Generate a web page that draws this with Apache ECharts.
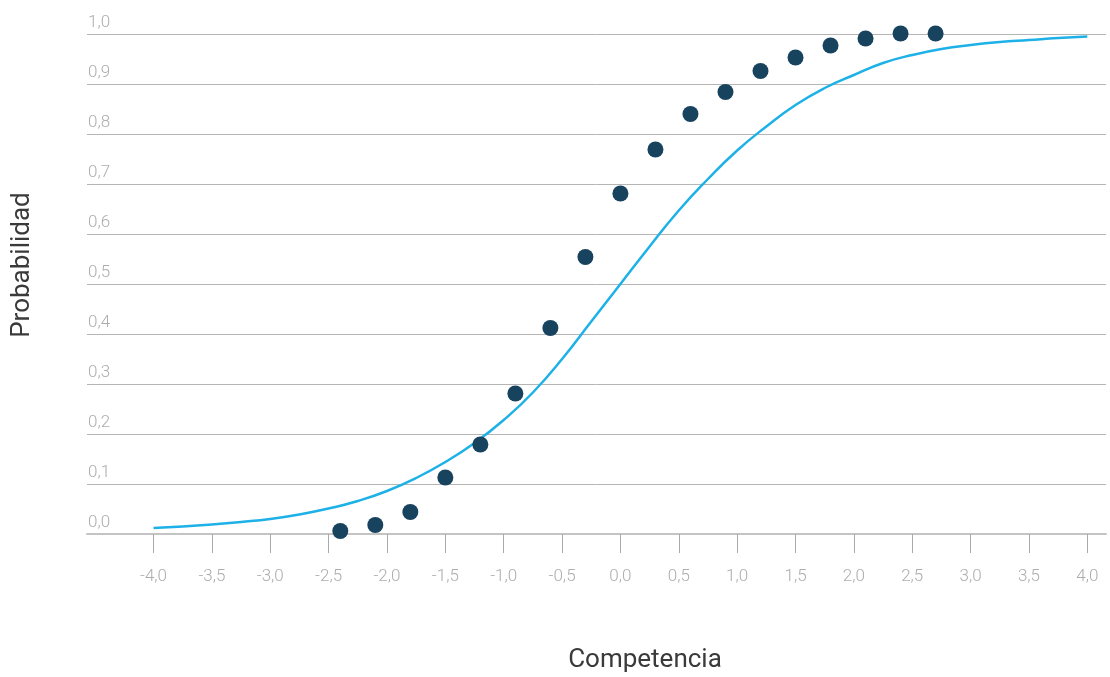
<!DOCTYPE html>
<html>
<head>
<meta charset="utf-8">
<script src="https://cdn.jsdelivr.net/npm/echarts@6/dist/echarts.min.js"></script>
<style>html,body{margin:0;padding:0;background:#fff;}#c{width:1110px;height:677px;}</style>
</head>
<body>
<div id="c"></div>
<script>
// Observed points
const pointX = [-2.4,-2.1,-1.8,-1.5,-1.2,-0.9,-0.6,-0.3,0,0.3,0.6,0.9,1.2,1.5,1.8,2.1,2.4,2.7];
const pointY = [0.006,0.018,0.044,0.113,0.179,0.281,0.412,0.554,0.681,0.769,0.840,0.884,0.926,0.953,0.977,0.991,1.001,1.001];
// Curve
const curveX = [-4,-3.75,-3.5,-3.25,-3,-2.75,-2.5,-2.25,-2,-1.75,-1.5,-1.25,-1,-0.75,-0.5,-0.25,0,0.25,0.5,0.75,1,1.25,1.5,1.75,2,2.25,2.5,2.75,3,3.25,3.5,3.75,4];
const curveY = [0.012,0.015,0.019,0.024,0.030,0.039,0.051,0.066,0.086,0.112,0.144,0.182,0.228,0.283,0.350,0.425,0.500,0.575,0.647,0.710,0.767,0.815,0.858,0.892,0.918,0.942,0.958,0.970,0.978,0.984,0.988,0.992,0.995];
// Tick labels
const xTicks = [-4,-3.5,-3,-2.5,-2,-1.5,-1,-0.5,0,0.5,1,1.5,2,2.5,3,3.5,4];
const yTicks = [0,0.1,0.2,0.3,0.4,0.5,0.6,0.7,0.8,0.9,1.0];
const xTitle = 'Competencia';
const yTitle = 'Probabilidad';

const fmt = v => (Math.round(v*10)/10).toFixed(1).replace('.', ',');
const tickFont = '"Roboto","Liberation Sans",sans-serif';

const chart = echarts.init(document.getElementById('c'), null, {renderer:'canvas'});
chart.setOption({
  animation: false,
  backgroundColor: '#ffffff',
  grid: {left: 87, right: 4, top: 34, bottom: 143, containLabel: false},
  xAxis: {
    type: 'value', min: -4.57, max: 4.16,
    axisLine: {show: true, lineStyle: {color: '#c4c4c4', width: 2}},
    axisTick: {show: true, customValues: xTicks, length: 19, lineStyle: {color: '#aaaaaa', width: 1}},
    axisLabel: {customValues: xTicks, formatter: fmt, margin: 34, color: '#adadad', fontSize: 17, fontFamily: tickFont, fontWeight: 300},
    splitLine: {show: false}
  },
  yAxis: {
    type: 'value', min: 0, max: 1, interval: 0.1,
    axisLine: {show: false}, axisTick: {show: false},
    axisLabel: {customValues: yTicks, inside: true, formatter: fmt, align: 'left', verticalAlign: 'bottom', margin: 1, padding: [0,0,3,0], color: '#adadad', fontSize: 17, fontFamily: tickFont, fontWeight: 300},
    splitLine: {show: true, lineStyle: {color: '#b5b5b5', width: 1}}
  },
  series: [
    {
      type: 'line', smooth: true, showSymbol: false,
      data: curveX.map((x,i) => [x, curveY[i]]),
      lineStyle: {color: '#1db1e7', width: 2.5},
      z: 2
    },
    {
      type: 'scatter', symbol: 'circle', symbolSize: 16,
      data: pointX.map((x,i) => [x, pointY[i]]),
      itemStyle: {color: '#17435f', opacity: 1},
      clip: false,
      z: 3
    }
  ],
  graphic: [
    {type: 'text', x: 645, y: 660, style: {text: xTitle, font: '400 26px Roboto, sans-serif', fill: '#3a3a3a', align: 'center', verticalAlign: 'middle'}},
    {type: 'text', x: 22, y: 265, rotation: Math.PI/2, style: {text: yTitle, font: '400 26px Roboto, sans-serif', fill: '#3a3a3a', align: 'center', verticalAlign: 'middle'}}
  ]
});
</script>
</body>
</html>
